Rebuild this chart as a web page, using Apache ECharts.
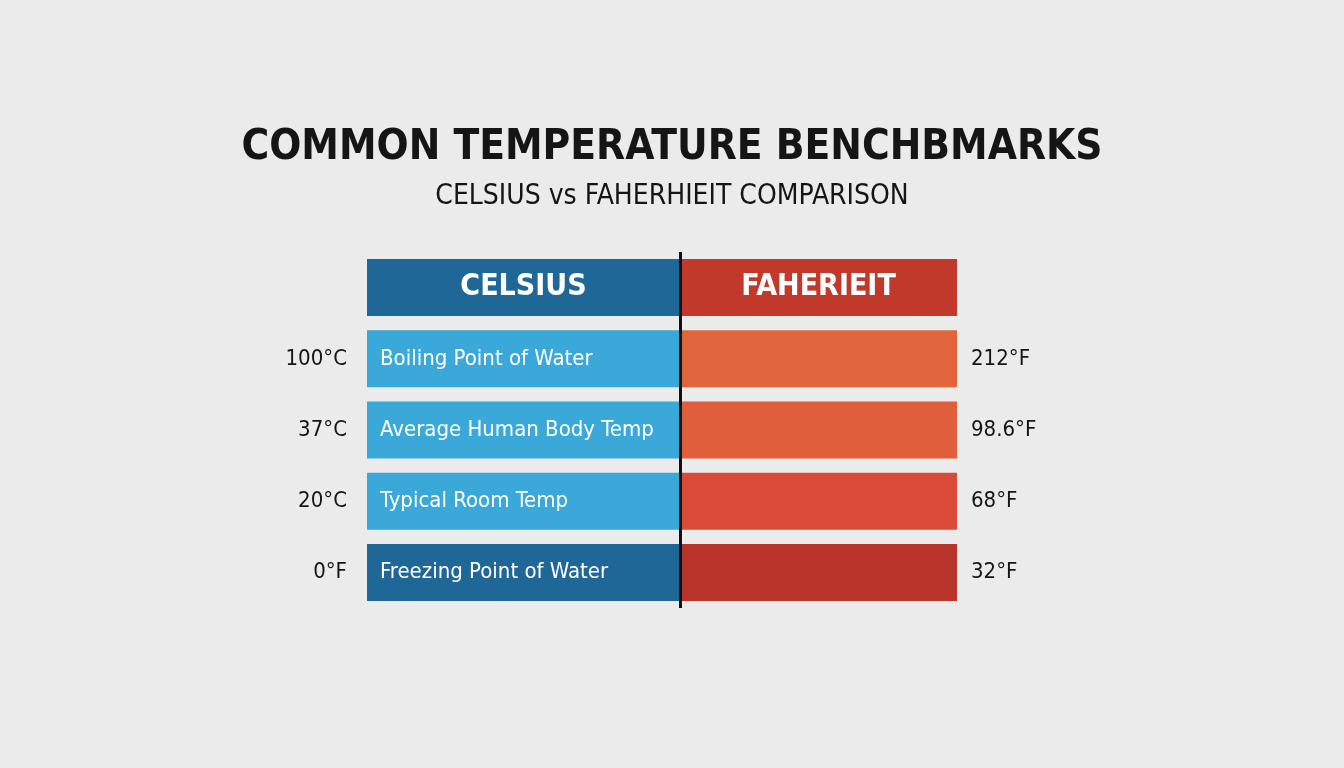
<!DOCTYPE html>
<html><head><meta charset="utf-8">
<script src="https://cdn.jsdelivr.net/npm/echarts@6/dist/echarts.min.js"></script>
<style>html,body{margin:0;background:#ebebeb}#c{width:1344px;height:768px}</style>
</head><body><div id="c"></div>
<script>
const rows = ['header','Boiling Point of Water','Average Human Body Temp','Typical Room Temp','Freezing Point of Water'];
const celsiusLabels = ['', '100°C', '37°C', '20°C', '0°F'];
const fahrenheitLabels = ['', '212°F', '98.6°F', '68°F', '32°F'];
const leftWidth = [313, 313, 313, 313, 313];
const rightWidth = [277, 277, 277, 277, 277];
const leftColors = ['#1f6796', '#3aa8d8', '#3aa8d8', '#3aa8d8', '#1f6796'];
const rightColors = ['#c0392b', '#e0653c', '#e15e3c', '#d94a38', '#b9352b'];
const F = '"DejaVu Sans Condensed","Liberation Sans Narrow",sans-serif';
const chart = echarts.init(document.getElementById('c'));
chart.setOption({
  backgroundColor: '#ebebeb',
  title: {
    text: 'COMMON TEMPERATURE BENCHBMARKS', subtext: 'CELSIUS vs FAHERHIEIT COMPARISON',
    left: 'center', top: 122, itemGap: 14,
    textStyle: {fontFamily: F, fontSize: 42, fontWeight: 'bold', color: '#151515'},
    subtextStyle: {fontFamily: F, fontSize: 28, color: '#151515'}
  },
  grid: {left: 367, right: 1344 - 957, top: 252, bottom: 160},
  xAxis: {type: 'value', min: 0, max: 590, show: false},
  yAxis: [
    {type: 'category', inverse: true, data: celsiusLabels, axisLine: {show: false}, axisTick: {show: false},
     axisLabel: {fontFamily: F, fontSize: 22, color: '#151515', margin: 20}},
    {type: 'category', inverse: true, position: 'right', data: fahrenheitLabels, axisLine: {show: false}, axisTick: {show: false},
     axisLabel: {fontFamily: F, fontSize: 22, color: '#151515', margin: 14}}
  ],
  series: [
    {type: 'bar', stack: 'a', barWidth: 57,
     data: leftWidth.map((v, i) => ({value: v, itemStyle: {color: leftColors[i]},
       label: i === 0 ? {show: true, position: 'inside', formatter: 'CELSIUS', fontSize: 30, fontWeight: 'bold'}
                      : {show: true, position: 'insideLeft', offset: [8, 0], formatter: rows[i], fontSize: 22}})),
     label: {color: '#fff', fontFamily: F},
     markLine: {symbol: 'none', silent: true, label: {show: false}, lineStyle: {color: '#111', width: 3, type: 'solid'},
       data: [{xAxis: 313}]}
    },
    {type: 'bar', stack: 'a', barWidth: 57,
     data: rightWidth.map((v, i) => ({value: v, itemStyle: {color: rightColors[i]},
       label: {show: i === 0, position: 'inside', formatter: 'FAHERIEIT', fontSize: 30, fontWeight: 'bold', color: '#fff', fontFamily: F}}))}
  ]
});
</script></body></html>
